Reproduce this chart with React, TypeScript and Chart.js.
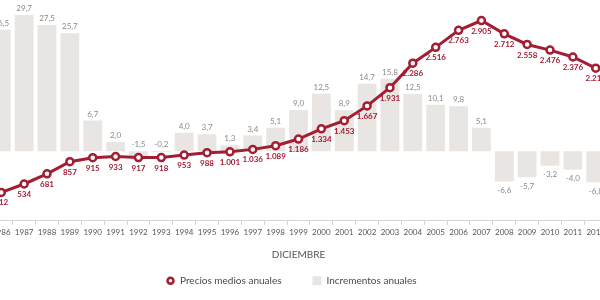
import React, { useEffect, useRef } from "react";
import { Chart, registerables } from "chart.js";

Chart.register(...registerables);

const years = [
  "1986", "1987", "1988", "1989", "1990", "1991", "1992", "1993", "1994",
  "1995", "1996", "1997", "1998", "1999", "2000", "2001", "2002", "2003",
  "2004", "2005", "2006", "2007", "2008", "2009", "2010", "2011", "2012",
];
const prices = [
  412, 534, 681, 857, 915, 933, 917, 918, 953, 988, 1001, 1036, 1089, 1186,
  1334, 1453, 1667, 1931, 2286, 2516, 2763, 2905, 2712, 2558, 2476, 2376, 2214,
];
const increments = [
  26.5, 29.7, 27.5, 25.7, 6.7, 2.0, -1.5, -0.2, 4.0, 3.7, 1.3, 3.4, 5.1, 9.0,
  12.5, 8.9, 14.7, 15.8, 12.5, 10.1, 9.8, 5.1, -6.6, -5.7, -3.2, -4.0, -6.8,
];
const xTitle = "DICIEMBRE";
const priceName = "Precios medios anuales";
const incName = "Incrementos anuales";

const RED = "#a31d33";
const BAR = "#e8e5e2";
const FONT = "Lato, 'Open Sans', sans-serif";

const fmtPrice = (v: number) =>
  String(v).replace(/\B(?=(\d{3})+(?!\d))/g, ".");
const fmtInc = (v: number) => v.toFixed(1).replace(".", ",");

const labelsPlugin = {
  id: "valueLabels",
  afterDatasetsDraw(chart: any) {
    const ctx = chart.ctx;
    const yI = chart.scales.yI;
    const zero = yI.getPixelForValue(0);
    ctx.save();
    ctx.textAlign = "center";
    ctx.textBaseline = "middle";
    // bar labels
    ctx.font = `8px ${FONT}`;
    ctx.fillStyle = "#8a8a8a";
    const barMeta = chart.getDatasetMeta(1);
    barMeta.data.forEach((el: any, i: number) => {
      const v = increments[i];
      let y: number;
      if (v >= 0) y = el.y - 6.5;
      else if (v > -2) y = zero - 6.5;
      else y = el.y + 9;
      ctx.fillText(fmtInc(v), el.x, y);
    });
    // price labels
    ctx.font = `bold 8px ${FONT}`;
    ctx.fillStyle = RED;
    const lineMeta = chart.getDatasetMeta(0);
    lineMeta.data.forEach((el: any, i: number) => {
      ctx.fillText(fmtPrice(prices[i]), el.x, el.y + 10.5);
    });
    ctx.restore();
  },
};

const legendPlugin = {
  id: "customLegend",
  afterDraw(chart: any) {
    const ctx = chart.ctx;
    const y = 280.7;
    ctx.save();
    ctx.font = `10px ${FONT}`;
    ctx.textBaseline = "middle";
    ctx.textAlign = "left";
    let x = chart.width / 2 - 132.5;
    // line marker
    ctx.beginPath();
    ctx.arc(x + 4.5, y, 3, 0, Math.PI * 2);
    ctx.fillStyle = "#fff";
    ctx.fill();
    ctx.lineWidth = 2.5;
    ctx.strokeStyle = RED;
    ctx.stroke();
    x += 14;
    ctx.fillStyle = "#4a4a4a";
    ctx.fillText(priceName, x, y);
    x += ctx.measureText(priceName).width + 31;
    ctx.fillStyle = BAR;
    ctx.fillRect(x, y - 4.5, 9, 9);
    x += 14;
    ctx.fillStyle = "#4a4a4a";
    ctx.fillText(incName, x, y);
    ctx.restore();
  },
};

export default function App() {
  const ref = useRef<HTMLCanvasElement>(null);
  useEffect(() => {
    if (!ref.current) return;
    Chart.defaults.font.family = FONT;
    const chart = new Chart(ref.current, {
      type: "bar",
      data: {
        labels: years,
        datasets: [
          {
            type: "line",
            label: priceName,
            data: prices,
            yAxisID: "yP",
            borderColor: RED,
            borderWidth: 3,
            pointRadius: 3.5,
            pointBorderWidth: 2.5,
            pointBackgroundColor: "#fff",
            pointBorderColor: RED,
            tension: 0,
            order: 0,
          } as any,
          {
            type: "bar",
            label: incName,
            data: increments,
            yAxisID: "yI",
            backgroundColor: BAR,
            barPercentage: 0.82,
            categoryPercentage: 1,
            order: 1,
          },
        ],
      },
      options: {
        animation: false,
        responsive: true,
        maintainAspectRatio: false,
        layout: {
          autoPadding: false,
          padding: { top: 10, bottom: 39.6, left: 0, right: 0 },
        },
        plugins: {
          legend: { display: false },
          tooltip: { enabled: false },
        },
        scales: {
          x: {
            type: "category",
            offset: true,
            grid: {
              display: true,
              drawOnChartArea: false,
              tickLength: 4,
              color: "#d4d4d4",
              offset: true,
            },
            border: { color: "#d4d4d4" },
            ticks: {
              font: { family: FONT, size: 8 },
              color: "#555",
              padding: 3,
              autoSkip: false,
              maxRotation: 0,
            },
            title: {
              display: true,
              text: xTitle,
              font: { family: FONT, size: 10 },
              color: "#555",
              padding: { top: 8, bottom: 0 },
            },
          },
          yP: { display: false, min: 0, max: 3058 },
          yI: { display: false, min: -15.18, max: 30.78 },
        },
      },
      plugins: [labelsPlugin, legendPlugin],
    });
    return () => chart.destroy();
  }, []);
  return (
    <div
      style={{
        position: "fixed",
        left: -11,
        top: 0,
        width: 619,
        height: 300,
      }}
    >
      <canvas ref={ref} />
    </div>
  );
}
